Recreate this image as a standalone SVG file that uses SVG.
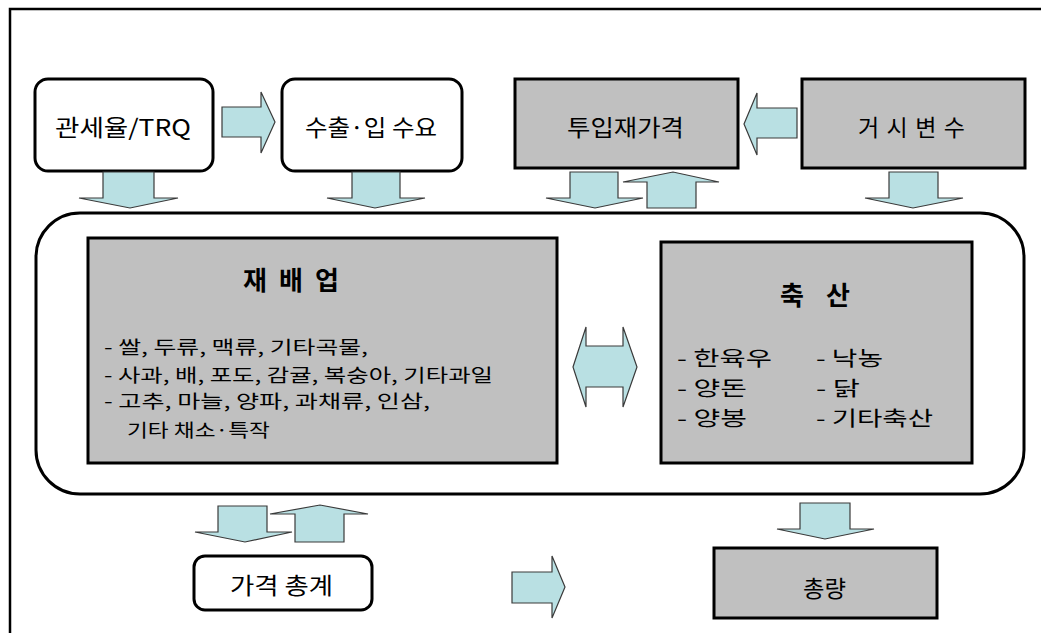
<svg xmlns="http://www.w3.org/2000/svg" width="1041" height="633" viewBox="0 0 1041 633">
<style>
text{font-family:"Noto Sans CJK KR","Liberation Sans",sans-serif;fill:#000;}
.lbl{font-size:23px;text-anchor:middle;dominant-baseline:central;}
.ttl{font-size:26px;font-weight:bold;text-anchor:middle;dominant-baseline:central;}
.lst{font-size:18.5px;dominant-baseline:central;}
.lst2{font-size:20.5px;dominant-baseline:central;}
.wbox{fill:#fff;stroke:#000;stroke-width:3;}
.gbox{fill:#c0c0c0;stroke:#000;stroke-width:3;}
.arr{fill:#b9e0e3;stroke:#3a3a3a;stroke-width:1.2;stroke-linejoin:miter;}
</style>
<rect x="10" y="9" width="1060" height="660" fill="#fff" stroke="#000" stroke-width="2.5"/>

<g id="container">
<rect x="36" y="213" width="988" height="281" rx="44" ry="44" fill="#fff" stroke="#000" stroke-width="3"/>
</g>

<g id="node-tariff">
<rect class="wbox" x="35" y="79" width="178" height="92" rx="13"/>
<text class="lbl" x="123" y="126" textLength="136" lengthAdjust="spacingAndGlyphs">관세율/TRQ</text>
</g>
<g id="node-trade">
<rect class="wbox" x="282" y="79" width="180" height="92" rx="13"/>
<text class="lbl" x="371" y="126" textLength="132" lengthAdjust="spacingAndGlyphs">수출·입 수요</text>
</g>
<g id="node-input">
<rect class="gbox" x="515" y="79" width="223" height="89"/>
<text class="lbl" x="625.5" y="126" textLength="117" lengthAdjust="spacingAndGlyphs">투입재가격</text>
</g>
<g id="node-macro">
<rect class="gbox" x="802" y="79" width="223" height="89"/>
<text class="lbl" x="911.5" y="126" textLength="107">거시변수</text>
</g>

<g id="node-crop">
<rect class="gbox" x="88" y="238" width="469" height="225"/>
<text class="ttl" x="291" y="278" textLength="96">재 배 업</text>
<text class="lst" x="104" y="346" textLength="264" lengthAdjust="spacingAndGlyphs">- 쌀, 두류, 맥류, 기타곡물,</text>
<text class="lst" x="104" y="374" textLength="389" lengthAdjust="spacingAndGlyphs">- 사과, 배, 포도, 감귤, 복숭아, 기타과일</text>
<text class="lst" x="104" y="400" textLength="326" lengthAdjust="spacingAndGlyphs">- 고추, 마늘, 양파, 과채류, 인삼,</text>
<text class="lst" x="127" y="429" textLength="143" lengthAdjust="spacingAndGlyphs">기타 채소·특작</text>
</g>

<g id="node-livestock">
<rect class="gbox" x="661" y="242" width="311" height="221"/>
<text class="ttl" x="815" y="293" textLength="70">축 산</text>
<text class="lst2" x="677" y="357" textLength="95" lengthAdjust="spacingAndGlyphs">- 한육우</text>
<text class="lst2" x="677" y="387" textLength="70" lengthAdjust="spacingAndGlyphs">- 양돈</text>
<text class="lst2" x="677" y="417" textLength="70" lengthAdjust="spacingAndGlyphs">- 양봉</text>
<text class="lst2" x="816" y="357" textLength="67" lengthAdjust="spacingAndGlyphs">- 낙농</text>
<text class="lst2" x="816" y="387" textLength="44" lengthAdjust="spacingAndGlyphs">- 닭</text>
<text class="lst2" x="816" y="417" textLength="117" lengthAdjust="spacingAndGlyphs">- 기타축산</text>
</g>

<g id="node-price">
<rect class="wbox" x="194" y="556" width="178" height="54" rx="11"/>
<text class="lbl" x="281.5" y="584" textLength="103" lengthAdjust="spacingAndGlyphs">가격 총계</text>
</g>
<g id="node-total">
<rect class="gbox" x="714" y="548" width="223" height="70"/>
<text class="lbl" x="824.5" y="587" textLength="43" lengthAdjust="spacingAndGlyphs">총량</text>
</g>

<g id="connectors">
<polygon class="arr" points="222,107 261,107 261,92 275,122 261,153 261,137 222,137"/>
<polygon class="arr" points="797,108 757,108 757,93 744,124 757,155 757,138 797,138"/>
<polygon class="arr" points="103,172 154,172 154,198 178,198 130,208 79,198 103,198"/>
<polygon class="arr" points="352,172 400,172 400,198 425,198 375,208 327,198 352,198"/>
<polygon class="arr" points="570,172 618,172 618,198 643,198 595,208 546,198 570,198"/>
<polygon class="arr" points="647,208 696,208 696,182 719,182 673,172 623,182 647,182"/>
<polygon class="arr" points="889,172 938,172 938,198 963,198 913,208 865,198 889,198"/>
<polygon class="arr" points="573,367 586,327 586,346 623,346 623,327 637,367 623,407 623,387 586,387 586,407"/>
<polygon class="arr" points="218,506 267,506 267,532 292,532 245,542 195,532 218,532"/>
<polygon class="arr" points="295,542 344,542 344,514 368,514 320,505 270,514 295,514"/>
<polygon class="arr" points="800,503 850,503 850,529 874,529 825,539 777,529 800,529"/>
<polygon class="arr" points="512,572 552,572 552,556 565,587 552,618 552,603 512,603"/>
</g>
</svg>
